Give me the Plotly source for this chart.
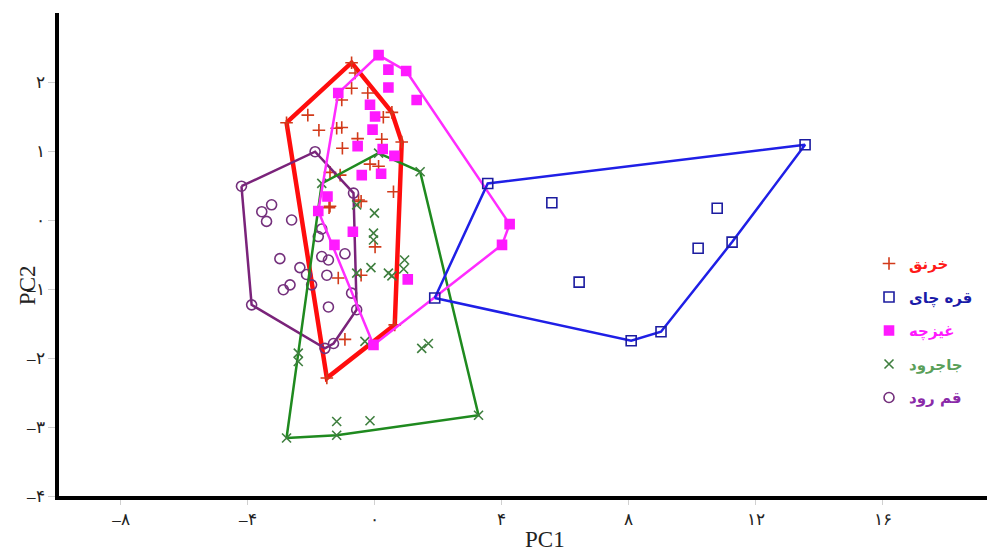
import plotly.graph_objects as go

# ---- data ----
kharnaq_x = [-0.73, -0.62, -0.73, -1.04, -0.22, -2.11, -2.78, -1.20, -1.04, -1.76, 0.54, 0.27, -0.54, 0.22,
             -1.02, 0.85, -0.15, 0.12, -1.41, -1.09, 0.59, -1.41, -0.43, -0.51, -1.44, 0.01, -0.43, -1.15,
             -0.94, 0.63, -1.51]
kharnaq_y = [2.28, 2.13, 1.91, 1.74, 1.84, 1.52, 1.41, 1.33, 1.34, 1.30, 1.56, 1.49, 1.18, 1.17,
             1.04, 1.13, 0.81, 0.78, 0.69, 0.65, 0.41, 0.20, 0.27, 0.29, 0.18, -0.39, -0.80, -0.84,
             -1.73, -1.52, -2.29]

qarechay_x = [3.56, 13.56, 5.58, 10.79, 10.19, 11.26, 6.44, 1.89, 8.08, 9.02]
qarechay_y = [0.53, 1.09, 0.25, 0.17, -0.41, -0.32, -0.90, -1.13, -1.75, -1.62]

ghizche_x = [0.12, 0.43, 0.99, 0.43, 1.32, -1.15, -0.15, 0.01, -0.07, -0.54, 0.25, 0.62, -0.41, 0.20,
             -1.49, -1.78, -0.69, -1.27, 1.04, -0.04, 4.25, 4.01]
ghizche_y = [2.39, 2.18, 2.16, 1.92, 1.74, 1.84, 1.67, 1.50, 1.31, 1.07, 1.03, 0.93, 0.65, 0.67,
             0.34, 0.13, -0.17, -0.36, -0.86, -1.81, -0.06, -0.36]

jajrood_x = [0.12, -1.67, 1.43, -0.01, -0.04, -0.04, -0.12, -0.57, 0.43, 0.54, 0.94, 0.91, -0.57,
             1.48, 1.69, -2.41, -2.41, -0.31, -1.20, -1.20, -0.15, -2.78, 3.27]
jajrood_y = [0.97, 0.53, 0.70, 0.10, -0.19, -0.29, -0.69, -0.77, -0.77, -0.81, -0.58, -0.71, 0.22,
             -1.86, -1.79, -1.93, -2.05, -1.76, -2.92, -3.12, -2.91, -3.16, -2.83]

qomrud_x = [-4.20, -1.88, -0.67, -3.25, -3.56, -3.41, -2.62, -1.67, -1.78, -2.99, -2.36, -2.15, -1.67,
            -1.46, -0.94, -1.51, -2.67, -2.88, -1.99, -1.46, -0.73, -0.57, -3.88, -1.57, -1.30]
qomrud_y = [0.49, 0.99, 0.39, 0.22, 0.12, -0.02, 0.00, -0.13, -0.24, -0.56, -0.69, -0.79, -0.53,
            -0.58, -0.49, -0.80, -0.94, -1.01, -0.94, -1.26, -1.06, -1.30, -1.23, -1.86, -1.79]

group_names = ["خرنق", "قره چای", "غیزچه", "جاجرود", "قم رود"]

x_tick_vals = [-8, -4, 0, 4, 8, 12, 16]
x_tick_text = ["–۸", "–۴", "۰", "۴", "۸", "۱۲", "۱۶"]
y_tick_vals = [-4, -3, -2, -1, 0, 1, 2]
y_tick_text = ["–۴", "–۳", "–۲", "–۱", "۰", "۱", "۲"]


def convex_hull(xs, ys):
    pts = sorted(set(zip(xs, ys)))
    if len(pts) < 3:
        return pts

    def cross(o, a, b):
        return (a[0] - o[0]) * (b[1] - o[1]) - (a[1] - o[1]) * (b[0] - o[0])

    lower = []
    for p in pts:
        while len(lower) >= 2 and cross(lower[-2], lower[-1], p) <= 0:
            lower.pop()
        lower.append(p)
    upper = []
    for p in reversed(pts):
        while len(upper) >= 2 and cross(upper[-2], upper[-1], p) <= 0:
            upper.pop()
        upper.append(p)
    hull = lower[:-1] + upper[:-1]
    hull.append(hull[0])
    return hull


groups = [
    dict(name=group_names[0], x=kharnaq_x, y=kharnaq_y, line="#ff0d0d", lw=4.5,
         symbol="cross-thin-open", mcolor="#d23a1a", size=9, txt="#ff1a1a"),
    dict(name=group_names[4], x=qomrud_x, y=qomrud_y, line="#7a237a", lw=2.5,
         symbol="circle-open", mcolor="#74307c", size=10, txt="#8a2aa8"),
    dict(name=group_names[3], x=jajrood_x, y=jajrood_y, line="#1f8a1f", lw=2.5,
         symbol="x-thin-open", mcolor="#3f7f3f", size=9, txt="#5aa05a"),
    dict(name=group_names[2], x=ghizche_x, y=ghizche_y, line="#ff2cff", lw=2.5,
         symbol="square", mcolor="#ff1aff", size=9, txt="#ff1aff"),
    dict(name=group_names[1], x=qarechay_x, y=qarechay_y, line="#1f1fe6", lw=2.5,
         symbol="square-open", mcolor="#1c1ca0", size=10, txt="#1a1aa8"),
]
legend_rank = {group_names[i]: i for i in range(5)}

fig = go.Figure()
for g in groups:
    hull = convex_hull(g["x"], g["y"])
    fig.add_trace(go.Scatter(
        x=[p[0] for p in hull], y=[p[1] for p in hull], mode="lines",
        line=dict(color=g["line"], width=g["lw"]), showlegend=False, hoverinfo="skip"))
    fig.add_trace(go.Scatter(
        x=g["x"], y=g["y"], mode="markers",
        name="<b><span style='color:%s'>%s</span></b>" % (g["txt"], g["name"]),
        legendrank=legend_rank[g["name"]],
        legendgroup=g["name"],
        marker=dict(symbol=g["symbol"], size=g["size"], color=g["mcolor"],
                    line=dict(width=1.6, color=g["mcolor"]))))

fig.update_layout(
    width=995, height=552,
    margin=dict(l=51, r=11, t=5, b=64),
    paper_bgcolor="white", plot_bgcolor="white",
    font=dict(family="Liberation Serif, DejaVu Serif, serif", size=16, color="#222"),
    legend=dict(x=0.985, xanchor="right", y=0.515, yanchor="top",
                font=dict(family="DejaVu Sans, sans-serif", size=15),
                tracegroupgap=11, bgcolor="rgba(0,0,0,0)"),
    xaxis=dict(range=[-9.95, 19.45], showgrid=False, zeroline=False, showline=True,
               linecolor="black", linewidth=4, ticks="outside", ticklen=5,
               tickcolor="#d0d0d0", tickvals=x_tick_vals, ticktext=x_tick_text,
               tickfont=dict(size=17, color="#222")),
    yaxis=dict(range=[-4, 3], showgrid=False, zeroline=False, showline=True,
               linecolor="black", linewidth=4, ticks="outside", ticklen=7,
               tickcolor="#d0d0d0", tickvals=y_tick_vals, ticktext=y_tick_text,
               tickfont=dict(size=17, color="#222")),
    annotations=[
        dict(text="PC1", xref="paper", yref="paper", x=0.521, y=-0.091, yanchor="middle",
             showarrow=False, font=dict(family="Liberation Serif, serif", size=23, color="#222")),
        dict(text="PC2", xref="paper", yref="paper", x=-0.033, y=0.437, xanchor="center",
             textangle=-90,
             showarrow=False, font=dict(family="Liberation Serif, serif", size=23, color="#222")),
    ],
)

fig.write_html("out.html")
